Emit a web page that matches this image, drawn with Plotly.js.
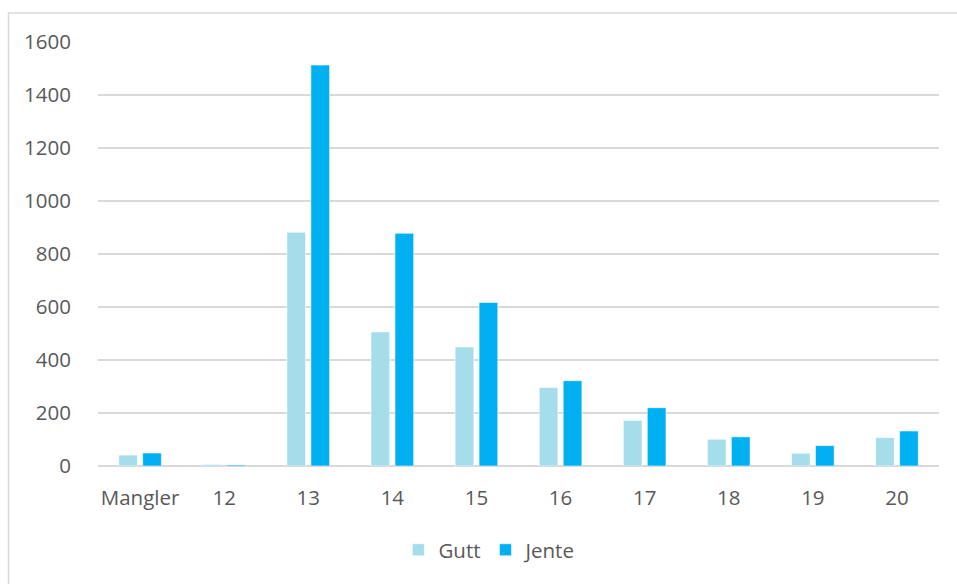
<!DOCTYPE html>
<html>
<head>
<meta charset="utf-8">
<script src="https://cdn.plot.ly/plotly-3.0.1.min.js"></script>
<style>
html,body{margin:0;padding:0;background:#fff;}
#chart{width:957px;height:584px;}
</style>
</head>
<body>
<div id="chart"></div>
<script>
const categories = ["Mangler", "12", "13", "14", "15", "16", "17", "18", "19", "20"];
const gutt = [41, 6, 882, 506, 449, 296, 172, 101, 48, 107];
const jente = [49, 4, 1513, 878, 617, 322, 220, 110, 77, 132];
const yTicks = [0, 200, 400, 600, 800, 1000, 1200, 1400, 1600];

const font = {family: "Open Sans, sans-serif", size: 20.5, color: "#595959"};

const traces = [
  {type: "bar", name: "Gutt", x: categories, y: gutt,
   marker: {color: "#A5DEEA", line: {color: "rgba(255,255,255,0.7)", width: 0.8}}},
  {type: "bar", name: "Jente", x: categories, y: jente,
   marker: {color: "#00B0F0", line: {color: "rgba(255,255,255,0.7)", width: 0.8}}}
];

const layout = {
  width: 957, height: 584,
  margin: {l: 98, r: 18, t: 42, b: 118},
  paper_bgcolor: "#ffffff", plot_bgcolor: "#ffffff",
  barmode: "group", bargap: 0.43, bargroupgap: 0.22,
  font: font,
  showlegend: true,
  legend: {orientation: "h", x: 0.466, xanchor: "center", y: -0.198, yanchor: "middle",
           font: font, traceorder: "normal", itemclick: false},
  xaxis: {type: "category", showgrid: false, showline: false, zeroline: false,
          ticks: "outside", ticklen: 13, tickcolor: "rgba(0,0,0,0)", tickfont: font},
  yaxis: {range: [0, 1600], tickvals: yTicks, ticktext: yTicks.map(String),
          showgrid: true, gridcolor: "#D9D9D9", gridwidth: 1.6,
          zeroline: true, zerolinecolor: "#D9D9D9", zerolinewidth: 1.6,
          showline: false, ticks: "outside", ticklen: 22, tickcolor: "rgba(0,0,0,0)",
          tickfont: font},
  shapes: [{type: "rect", xref: "paper", yref: "paper",
            x0: -0.1064, x1: 1.06, y0: -0.5, y1: 1.0684,
            line: {color: "#D9D9D9", width: 1.5}, fillcolor: "rgba(0,0,0,0)", layer: "below"}]
};

Plotly.newPlot("chart", traces, layout, {displayModeBar: false, staticPlot: true});
</script>
</body>
</html>
